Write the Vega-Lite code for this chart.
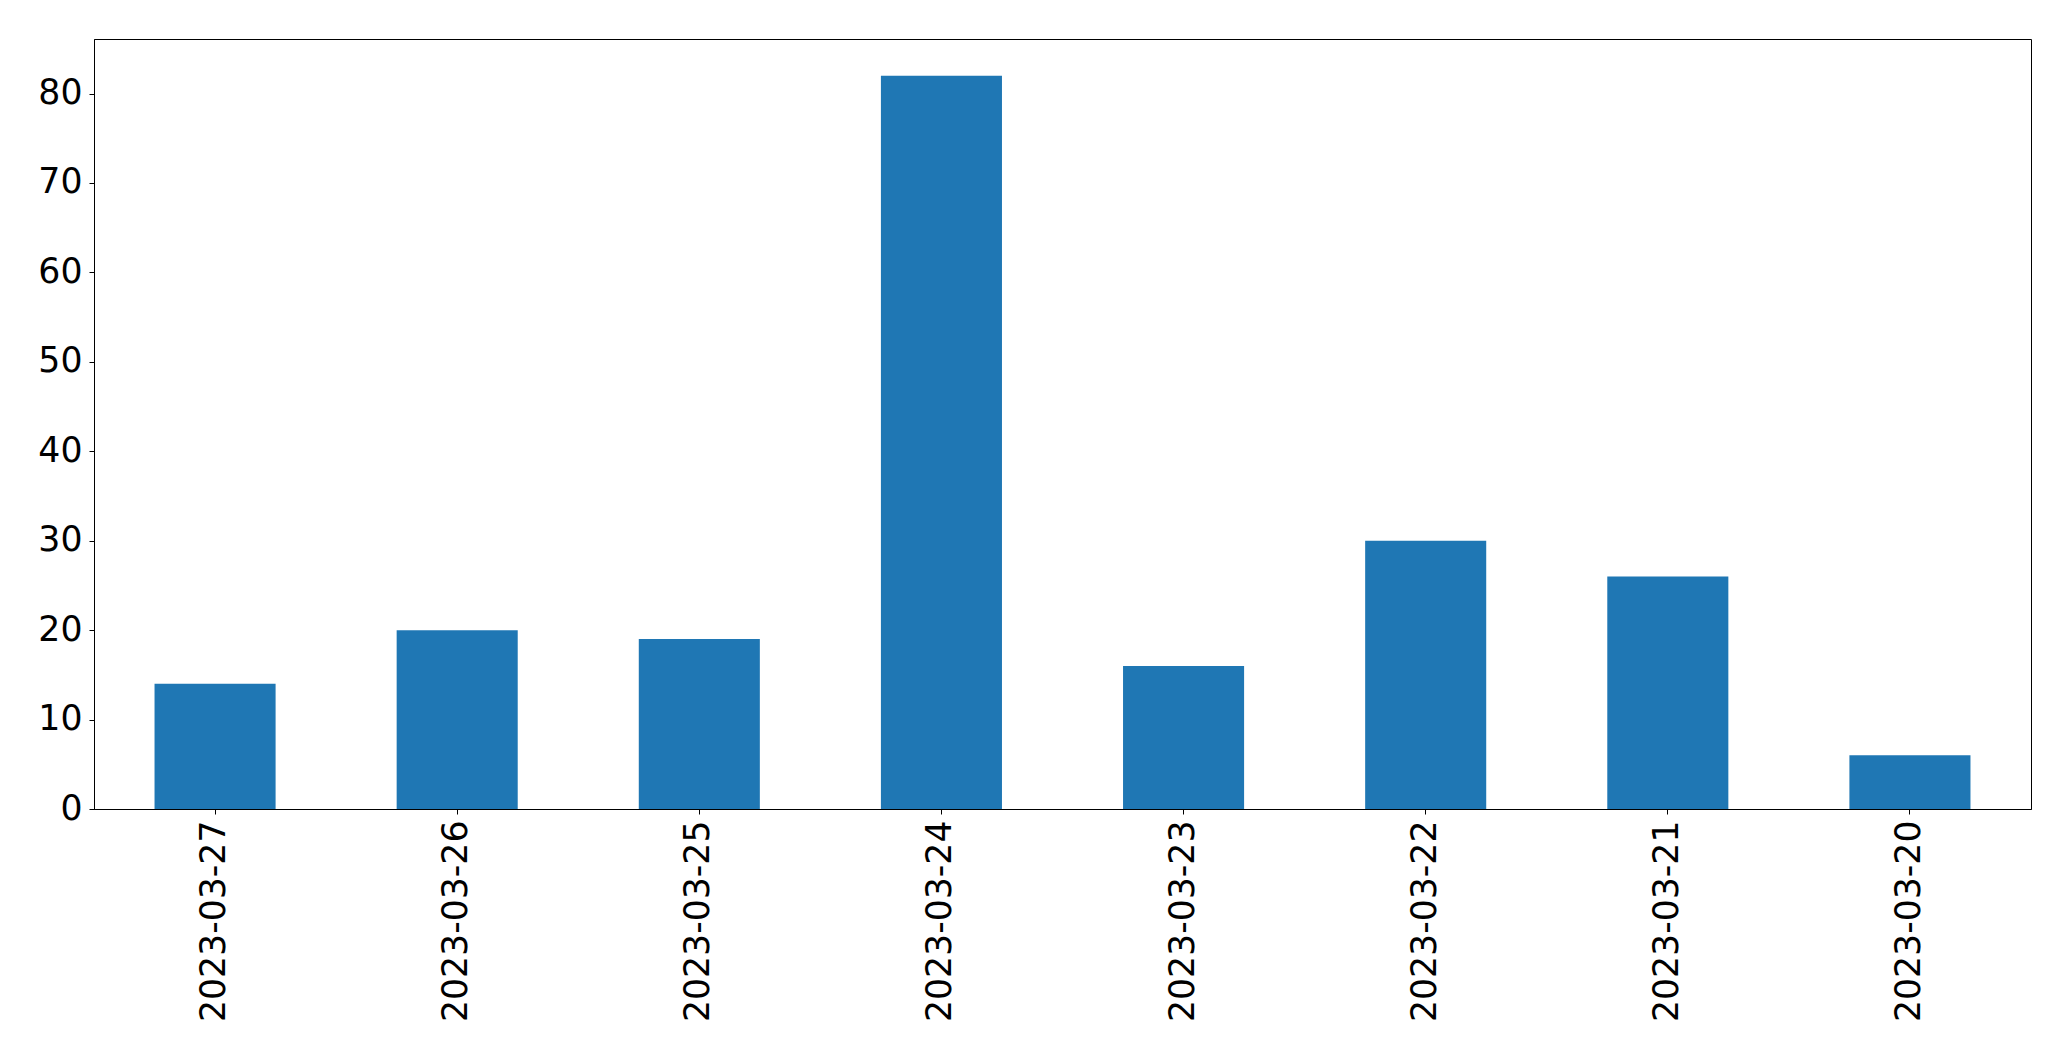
{
  "$schema": "https://vega.github.io/schema/vega-lite/v6.json",
  "autosize": "none",
  "padding": {"left": 94, "top": 39, "right": 40, "bottom": 252},
  "width": 1937,
  "height": 770,
  "background": "white",
  "data": {
    "values": [
      {"date": "2023-03-27", "count": 14},
      {"date": "2023-03-26", "count": 20},
      {"date": "2023-03-25", "count": 19},
      {"date": "2023-03-24", "count": 82},
      {"date": "2023-03-23", "count": 16},
      {"date": "2023-03-22", "count": 30},
      {"date": "2023-03-21", "count": 26},
      {"date": "2023-03-20", "count": 6}
    ]
  },
  "mark": {"type": "bar", "color": "#1f77b4"},
  "encoding": {
    "x": {
      "field": "date",
      "type": "nominal",
      "sort": null,
      "scale": {"paddingInner": 0.5, "paddingOuter": 0.25},
      "axis": {
        "title": null,
        "labelAngle": 270,
        "labelAlign": "right",
        "labelBaseline": "middle",
        "labelFont": "DejaVu Sans",
        "labelFontSize": 34.7,
        "labelColor": "black",
        "labelPadding": 6,
        "labelLimit": 400,
        "tickColor": "black",
        "tickSize": 5,
        "domainColor": "black",
        "grid": false
      }
    },
    "y": {
      "field": "count",
      "type": "quantitative",
      "scale": {"domain": [0, 86.1], "nice": false, "zero": true},
      "axis": {
        "title": null,
        "values": [0, 10, 20, 30, 40, 50, 60, 70, 80],
        "labelFont": "DejaVu Sans",
        "labelFontSize": 34.7,
        "labelColor": "black",
        "labelPadding": 7,
        "tickColor": "black",
        "tickSize": 5,
        "domainColor": "black",
        "grid": false
      }
    }
  },
  "config": {
    "view": {"stroke": "black", "strokeWidth": 1}
  }
}
